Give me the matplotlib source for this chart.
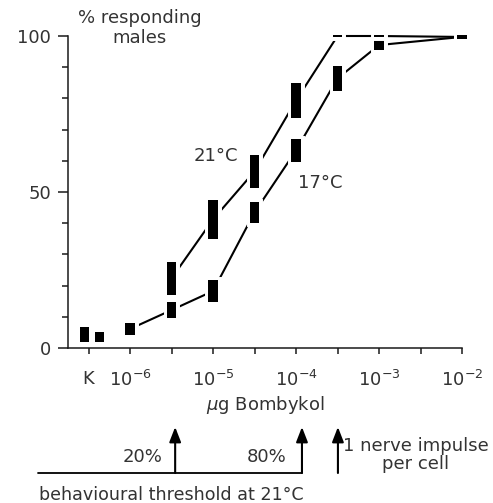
import numpy as np
import matplotlib.pyplot as plt
import matplotlib.patheffects as pe

# doses in ug bombykol, response as range (low, high) of % responding males
dose_21 = [10**-5.5, 1e-5, 10**-4.5, 1e-4, 10**-3.5, 1e-3, 1e-2]
low_21 = [17.0, 35.0, 51.3, 73.7, 99.6, 99.6, 99.0]
high_21 = [27.6, 47.4, 61.9, 84.9, 100.4, 100.4, 100.4]

dose_17 = [1e-6, 10**-5.5, 1e-5, 10**-4.5, 1e-4, 10**-3.5, 1e-3, 1e-2]
low_17 = [4.2, 9.6, 14.7, 40.1, 59.6, 82.4, 95.5, 99.0]
high_17 = [8.0, 14.7, 21.8, 46.8, 67.0, 90.4, 98.7, 100.4]

# controls (K), no stimulus
dose_k = [10**-6.55, 10**-6.37]
low_k = [1.9, 1.9]
high_k = [6.7, 5.1]

# thresholds marked under the axis
thr_20 = 3.5e-6
thr_80 = 1.18e-4
thr_nerve = 3.2e-4

xticks = [10**-6.5, 1e-6, 1e-5, 1e-4, 1e-3, 1e-2]
xticklabels = ['K', '$10^{-6}$', '$10^{-5}$', '$10^{-4}$', '$10^{-3}$', '$10^{-2}$']
xminor = [10**-5.5, 10**-4.5, 10**-3.5, 10**-2.5]

plt.rcParams['font.family'] = ['DejaVu Sans']
txt = '#333333'
ink = '#1a1a1a'

fig = plt.figure(figsize=(4.93, 5.03), dpi=100)
ax = fig.add_axes([68/493, 155/503, 394/493, 312/503])
ax.set_xscale('log')
ax.set_xlim(10**-6.747, 1e-2)
ax.set_ylim(0, 100)

half = 0.055  # half bar width in decades


def draw_bars(dose, lo, hi):
    dose = np.array(dose)
    lo = np.array(lo)
    hi = np.array(hi)
    left = dose * 10**-half
    width = dose * 10**half - left
    bars = ax.bar(left, hi - lo, width=width, bottom=lo, align='edge',
                  color='black', linewidth=0, zorder=4, clip_on=False)
    for b in bars:
        b.set_path_effects([pe.Stroke(linewidth=5, foreground='white'), pe.Normal()])


def draw_line(dose, lo, hi):
    mid = (np.array(lo) + np.array(hi)) / 2
    ax.plot(dose, mid, color='black', lw=1.5, zorder=2, clip_on=False)


draw_line(dose_17, low_17, high_17)
draw_line(dose_21, low_21, high_21)
draw_bars(dose_17, low_17, high_17)
draw_bars(dose_21, low_21, high_21)
draw_bars(dose_k, low_k, high_k)

# axes styling
for s in ['top', 'right']:
    ax.spines[s].set_visible(False)
for s in ['left', 'bottom']:
    ax.spines[s].set_color(ink)
    ax.spines[s].set_linewidth(1.1)

ax.set_yticks([0, 50, 100])
ax.set_yticklabels(['0', '50', '100'])
ax.set_yticks(np.arange(10, 100, 10), minor=True)
ax.tick_params(axis='y', which='major', length=7, width=1.1, color=ink,
               labelsize=13, labelcolor=txt, pad=5)
ax.tick_params(axis='y', which='minor', length=4.5, width=1.1, color=ink)

ax.set_xticks(xticks)
ax.set_xticklabels(xticklabels)
ax.set_xticks(xminor, minor=True)
ax.set_xticklabels([], minor=True)
ax.tick_params(axis='x', which='both', length=4.5, width=1.1, color=ink,
               labelsize=13, labelcolor=txt, pad=11)

ax.set_xlabel('$\\mu$g Bombykol', fontsize=13, color=txt, labelpad=3)

fig.text(140/493, 1 - 28/503, '% responding\nmales', ha='center', va='center',
         fontsize=13, color=txt, linespacing=1.2)

ax.text(10**-4.96, 61.5, '21°C', ha='center', va='center', fontsize=13, color=txt)
ax.text(10**-3.71, 52.9, '17°C', ha='center', va='center', fontsize=13, color=txt)

# threshold arrows below the axis
arrow_kw = dict(arrowstyle='-|>,head_length=0.9,head_width=0.35', color='black', lw=1.5,
                shrinkA=0, shrinkB=0)
for xv in [thr_20, thr_80, thr_nerve]:
    ax.annotate('', xy=(xv, 76), xycoords=('data', 'figure pixels'),
                xytext=(xv, 30), textcoords=('data', 'figure pixels'),
                arrowprops=arrow_kw, annotation_clip=False)

ax.annotate('', xy=(thr_80, 30), xycoords=('data', 'figure pixels'),
            xytext=(38, 30), textcoords='figure pixels',
            arrowprops=dict(arrowstyle='-', color='black', lw=1.3, shrinkA=0, shrinkB=0),
            annotation_clip=False)

fig.text(143/493, 46/503, '20%', ha='center', va='center', fontsize=13, color=txt)
fig.text(267/493, 46/503, '80%', ha='center', va='center', fontsize=13, color=txt)
fig.text(416/493, 48/503, '1 nerve impulse\nper cell', ha='center', va='center',
         fontsize=13, color=txt, linespacing=1.05)
fig.text(171/493, 8/503, 'behavioural threshold at 21°C', ha='center', va='center',
         fontsize=12.6, color=txt)

fig.savefig('out.png', dpi=100)
